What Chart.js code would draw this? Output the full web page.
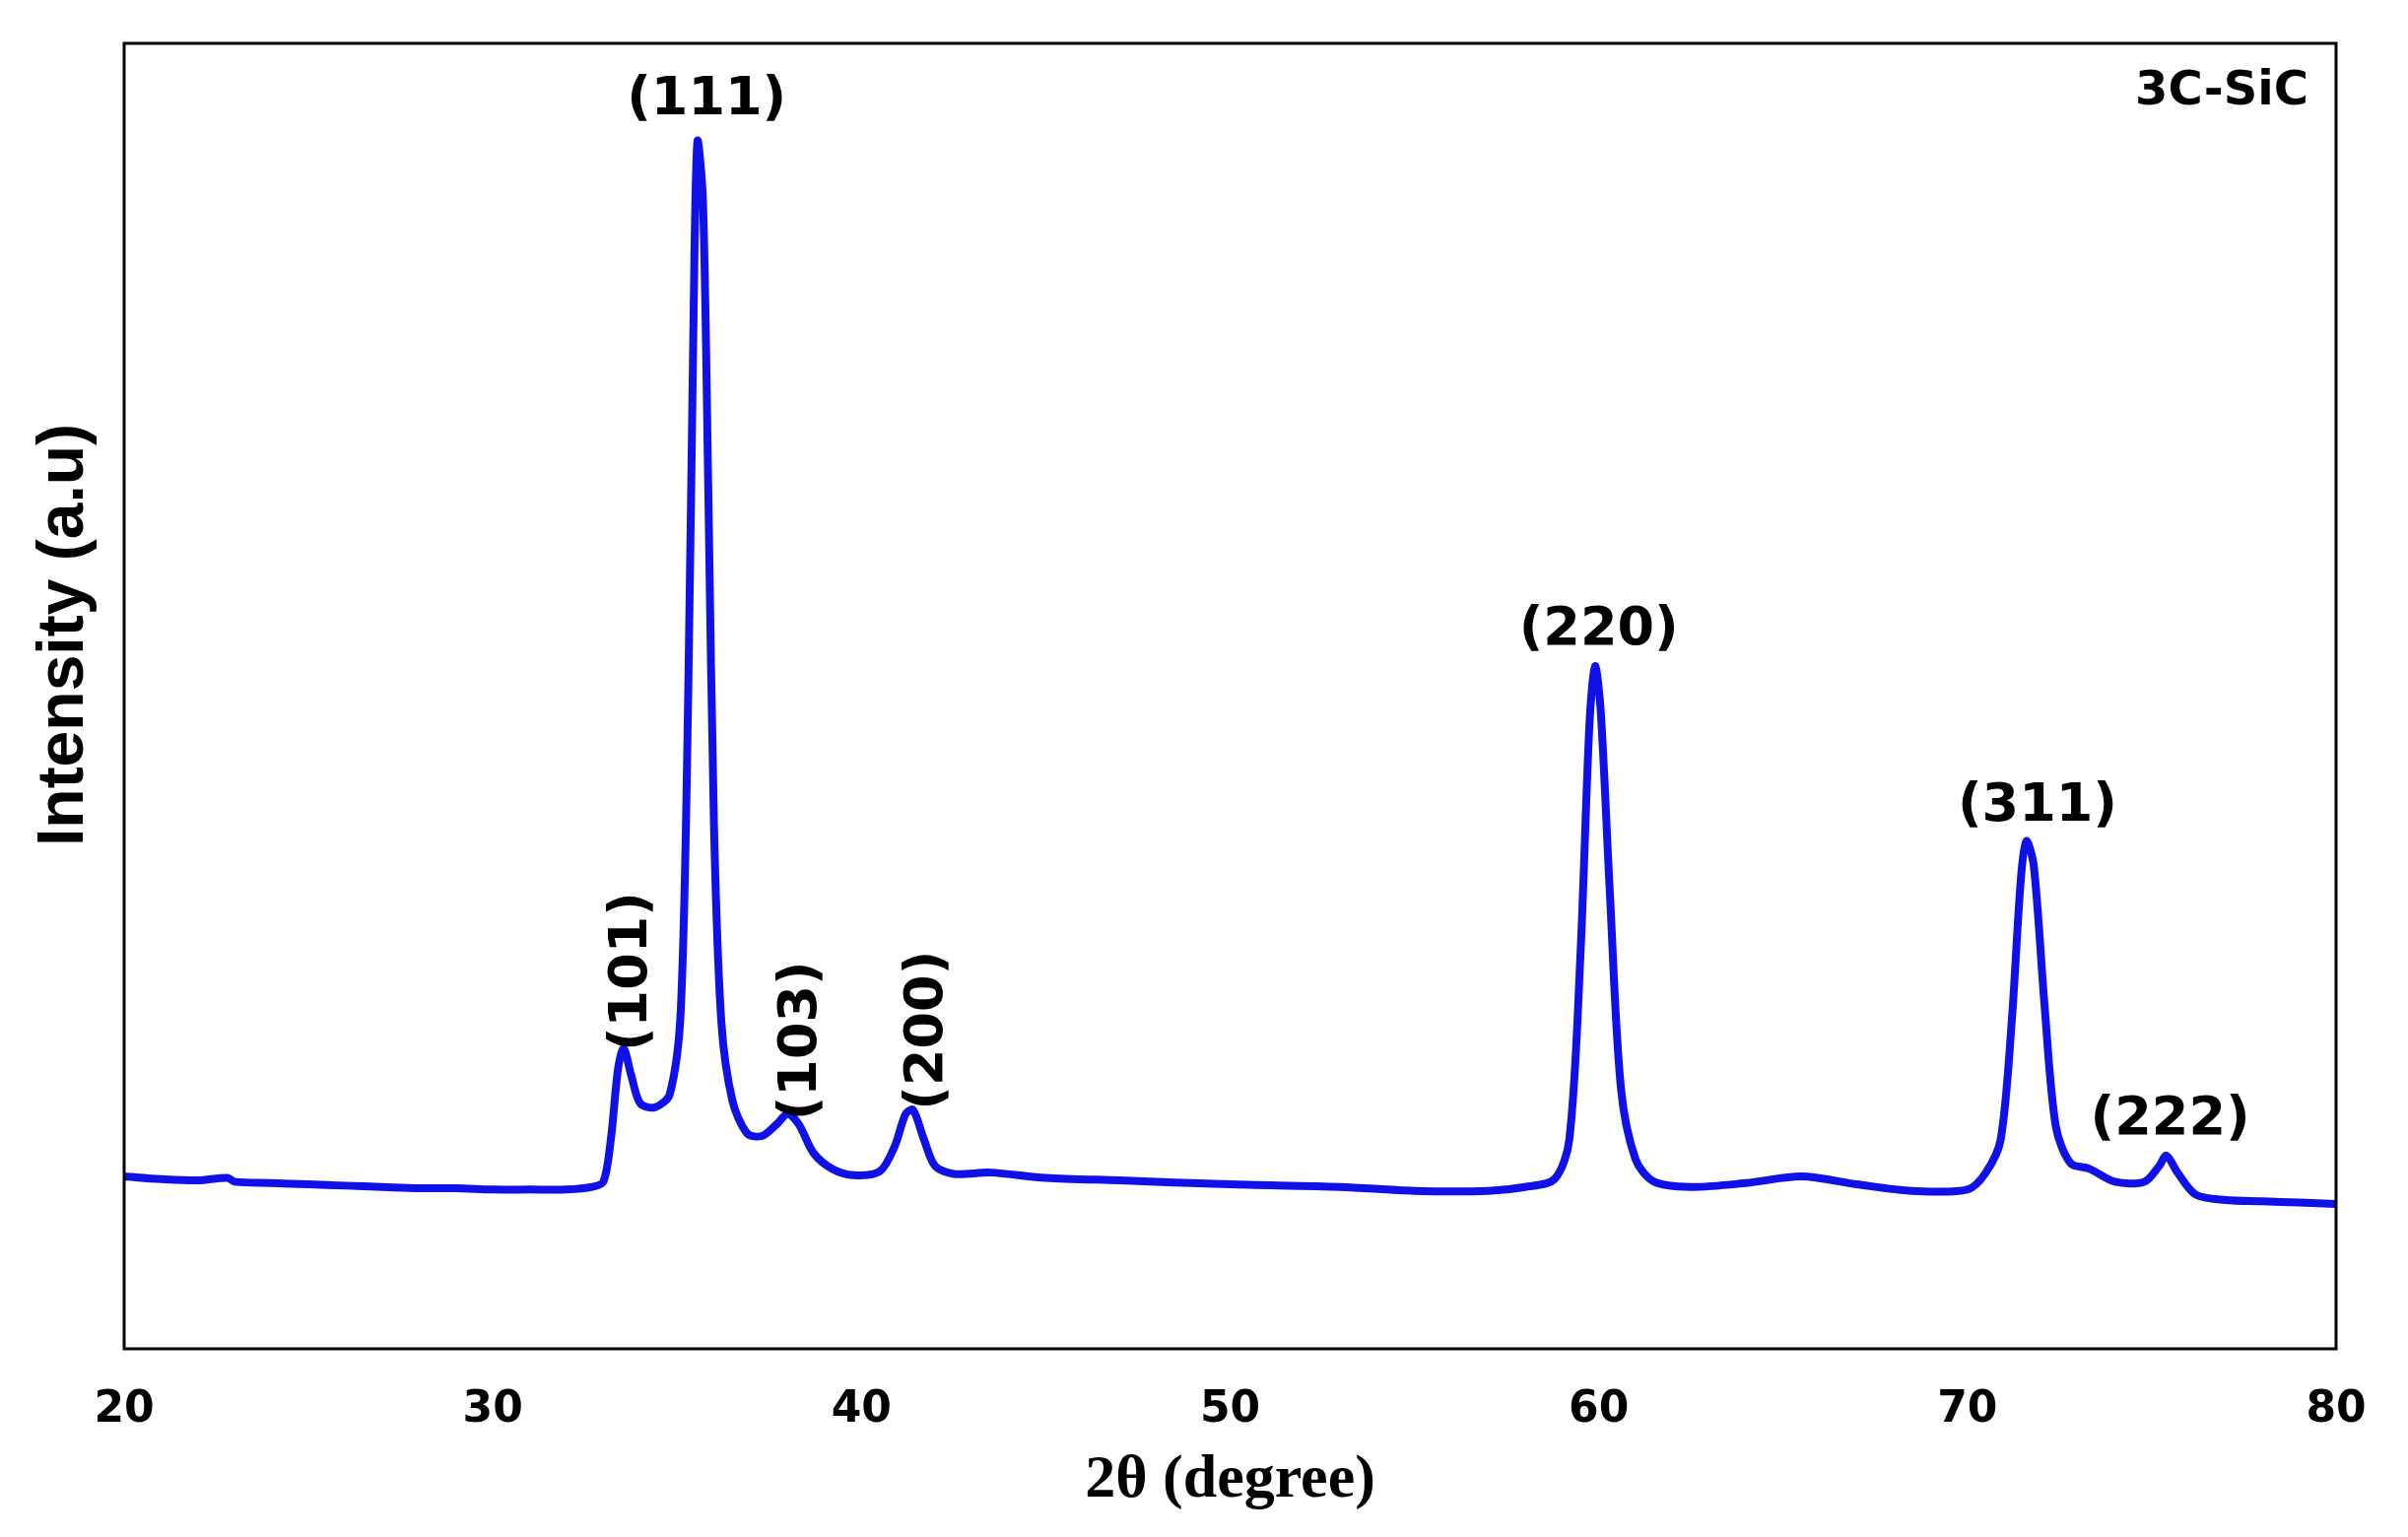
<!DOCTYPE html>
<html><head><meta charset="utf-8">
<script src="https://cdn.jsdelivr.net/npm/chart.js@4"></script>
<style>html,body{margin:0;padding:0;background:#fff}#w{width:2444px;height:1560px}</style>
</head><body><div id="w"><canvas id="c"></canvas></div>
<script>
const twoTheta=[20,21,22,22.8,23,24,25,26,27,28,29,30,31,32,32.7,33.0,33.2,33.4,33.55,33.75,34.0,34.4,34.8,35.1,35.3,35.45,35.55,35.7,35.85,36.0,36.2,36.5,36.9,37.3,37.7,38.0,38.3,38.7,39.2,39.8,40.5,40.9,41.2,41.4,41.7,42.0,42.5,43.5,45,47,50,53,55,57,58,58.8,59.2,59.5,59.75,59.9,60.05,60.3,60.6,61,61.5,62.5,64,65.5,67,68.5,70,70.5,70.9,71.2,71.45,71.6,71.8,72.1,72.4,72.8,73.3,74,74.8,75.2,75.4,75.7,76.2,77,78,79,80];
const intensity=[132,130,129,131,128,127,126,125,124,123,123,122,122,122,124,128,160,215,230,210,188,185,195,260,500,800,925,880,650,400,250,190,165,163,172,180,172,150,138,133,136,155,180,183,160,140,134,135,131,129,126,124,121,121,124,130,160,300,480,523,490,350,200,145,128,124,127,132,126,121,122,135,160,250,360,389,370,260,170,142,138,128,128,140,148,135,118,114,113,112,111];
const peakLabels=['(111)','(220)','(311)','(222)','(101)','(103)','(200)'];
const peakX=[35.8,60.0,71.9,75.5,33.8,38.4,41.8];
const peakY=[956,550,415,175,289,236,244];
const peakRot=[0,0,0,0,1,1,1];
const xTicks=[20,30,40,50,60,70,80];

const deco={id:'deco',afterDraw(ch){
 const c=ch.ctx,a=ch.chartArea,xs=ch.scales.x,ys=ch.scales.y;
 c.save();
 c.strokeStyle='#000';c.lineWidth=3;c.strokeRect(a.left,a.top,a.right-a.left,a.bottom-a.top);
 c.fillStyle='#000';c.font='900 54px "DejaVu Sans"';c.textAlign='center';c.textBaseline='middle';
 peakLabels.forEach((t,i)=>{const px=xs.getPixelForValue(peakX[i]),py=ys.getPixelForValue(peakY[i]);
  c.save();c.translate(px,py);if(peakRot[i])c.rotate(-Math.PI/2);c.fillText(t,0,0);c.restore();});
 c.font='bold 48px "DejaVu Sans"';c.textAlign='right';c.fillText('3C-SiC',a.right-28,a.top+50);
 c.font='bold 62px "Liberation Serif"';c.textAlign='center';c.fillText('2θ (degree)',(a.left+a.right)/2,1503);
 c.save();c.translate(66,(a.top+a.bottom)/2-62);c.rotate(-Math.PI/2);c.font='bold 66px "Liberation Sans"';c.fillText('Intensity (a.u)',0,0);c.restore();
 c.restore();}};

new Chart(document.getElementById('c'),{type:'line',
 data:{datasets:[{data:twoTheta.map((x,i)=>({x,y:intensity[i]})),borderColor:'#1010e8',borderWidth:8,pointRadius:0,tension:0.3,fill:false}]},
 options:{responsive:true,maintainAspectRatio:false,animation:false,
  layout:{padding:{left:126,top:44,right:73,bottom:0}},
  plugins:{legend:{display:false},tooltip:{enabled:false}},
  scales:{
   x:{type:'linear',min:20,max:80,grid:{display:false,drawTicks:false},border:{display:false},
      afterBuildTicks:s=>{s.ticks=xTicks.map(v=>({value:v}));},
      afterFit:s=>{s.height=191;},
      ticks:{padding:36,color:'#000',font:{family:'DejaVu Sans',weight:'bold',size:44},maxRotation:0}},
   y:{display:false,min:0,max:1000}}},
 plugins:[deco]});
</script></body></html>
